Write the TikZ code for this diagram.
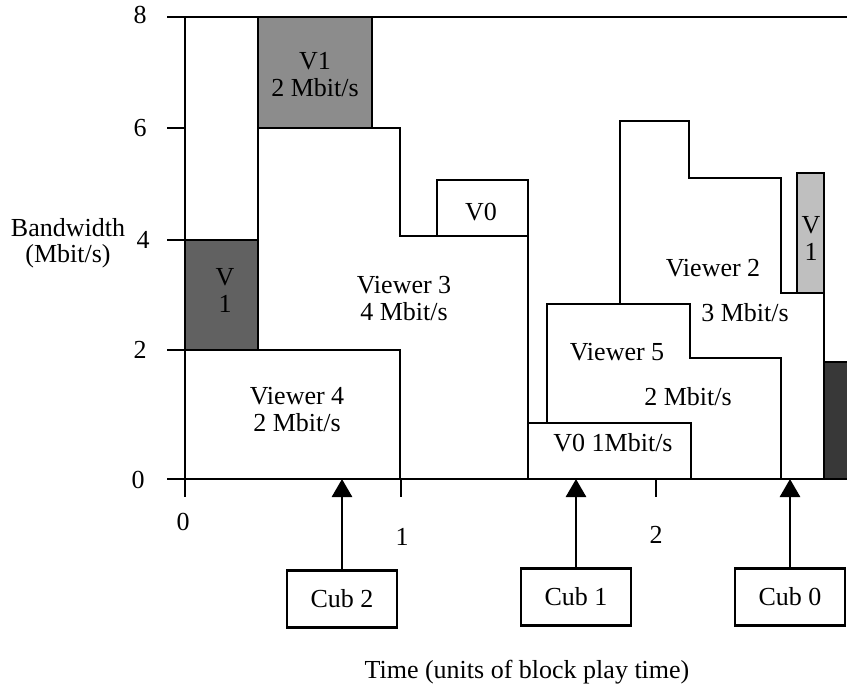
\documentclass[tikz,border=0pt]{standalone}
\usepackage{fontspec}
\setmainfont{Liberation Serif}
\usetikzlibrary{arrows.meta}
\definecolor{shadeA}{gray}{0.55}
\definecolor{shadeB}{gray}{0.38}
\definecolor{shadeC}{gray}{0.75}
\definecolor{shadeD}{gray}{0.22}
\begin{document}
\begin{tikzpicture}[x=1pt,y=-1pt,line width=2.7pt,line join=miter,
  every node/.style={font=\fontsize{26}{26}\selectfont,inner sep=0pt},
  region/.style={draw=black,fill=white},
  cubbox/.style={draw=black,line width=2.7pt,minimum width=110pt,minimum height=57pt,fill=white},
  feed/.style={-{Triangle[length=18pt,width=20pt]},line width=2.8pt},
  stack/.style={align=center,font=\fontsize{26}{27}\selectfont}]
\useasboundingbox (0,0) rectangle (847,688);

% regions
\draw[region] (258,17) -- (258,350);
\draw[region,fill=shadeA] (258,17) rectangle (372,128);
\draw[region] (258,128) -- (400,128) -- (400,236) -- (528,236) -- (528,479) -- (400,479) -- (400,350) -- (258,350) -- cycle;
\draw[region,fill=shadeB] (185,240) rectangle (258,350);
\draw[region] (185,350) rectangle (400,479);
\draw[region] (437,180) rectangle (528,236);
\draw[region] (528,423) rectangle (691,479);
\draw[region] (620,121) -- (689,121) -- (689,178) -- (781,178) -- (781,293) -- (824,293) -- (824,479) -- (781,479) -- (781,358) -- (690,358) -- (690,304) -- (620,304) -- cycle;
\draw[region] (547,304) -- (690,304) -- (690,358) -- (781,358) -- (781,479) -- (691,479) -- (691,423) -- (547,423) -- cycle;
\draw[region,fill=shadeC] (797,173) rectangle (824,293);
\draw[region,fill=shadeD] (824,362) rectangle (852,479);

% axes
\draw (167,17) -- (847,17);
\draw (167,479) -- (847,479);
\draw (185,17) -- (185,497);
\foreach \yy in {128,240,350} \draw (167,\yy) -- (185,\yy);
\foreach \xx in {401,656} \draw (\xx,479) -- (\xx,497);

% axis labels
\node (y8) at (140,15) {8};
\node (y6) at (140,128) {6};
\node (y4) at (143,240) {4};
\node (y2) at (140,350) {2};
\node (y0) at (138,480) {0};
\node (x0) at (183,522) {0};
\node (x1) at (402,537) {1};
\node (x2) at (656,535) {2};
\node[align=center,font=\fontsize{26}{26}\selectfont] (ylab) at (68,243) {Bandwidth\\(Mbit/s)};
\node (xlab) at (527,672) {Time (units of block play time)};

% region labels
\node[stack] (v1top) at (315,75) {V1\\2 Mbit/s};
\node[stack] (v1left) at (225,290) {V\\1};
\node[stack] (v3) at (404,299) {Viewer 3\\4 Mbit/s};
\node[stack] (v4) at (297,410) {Viewer 4\\2 Mbit/s};
\node (v0a) at (481,212) {V0};
\node (v0b) at (613,443) {V0 1Mbit/s};
\node (v2) at (713,268) {Viewer 2};
\node (v2r) at (745,313) {3 Mbit/s};
\node (v5) at (617,352) {Viewer 5};
\node (v5r) at (688,397) {2 Mbit/s};
\node[stack] (v1small) at (811,238) {V\\1};

% cubs
\node[cubbox] (cub2) at (342,599) {Cub 2};
\node[cubbox] (cub1) at (576,597) {Cub 1};
\node[cubbox] (cub0) at (790,597) {Cub 0};
\coordinate (t2) at (342,479);
\coordinate (t1) at (576,479);
\coordinate (t0) at (790,479);
\draw[feed] (cub2.north) -- (t2);
\draw[feed] (cub1.north) -- (t1);
\draw[feed] (cub0.north) -- (t0);
\end{tikzpicture}
\end{document}
